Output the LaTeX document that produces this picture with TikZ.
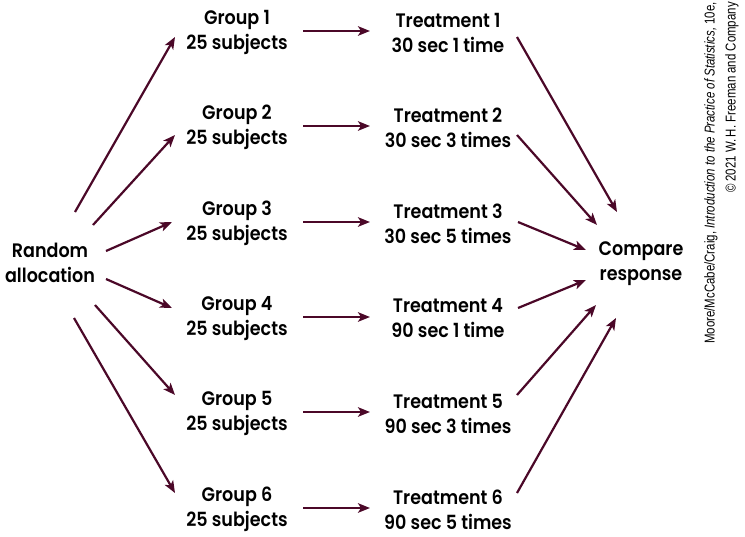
\documentclass[tikz,border=0pt]{standalone}
\usepackage{fontspec}
\setmainfont{Poppins}[FakeStretch=0.9, BoldFont={Poppins SemiBold}]
\newfontfamily\credfont{Liberation Sans}[FakeStretch=0.8]
\usetikzlibrary{arrows.meta}
\definecolor{arrcol}{RGB}{75,8,40}
\tikzset{
  lbl/.style={align=center, inner sep=0pt, font=\fontsize{19.5}{25}\selectfont\bfseries},
  arr/.style={draw=arrcol, line width=2.2pt, -{Stealth[length=12pt, width=9.5pt, inset=3pt]}},
  credit/.style={align=right, inner sep=0pt, font=\credfont\fontsize{14.3}{21}\selectfont}
}
\begin{document}
\begin{tikzpicture}[x=1pt, y=-1pt]
\useasboundingbox (0,0) rectangle (745,536);
\node[lbl] (ra) at (50,263) {Random\\allocation};
\node[lbl] (cr) at (641,264) {Compare\\response};
\node[lbl] (g1) at (237,32.5) {Group 1\\25 subjects};
\node[lbl] (g2) at (237,127.5) {Group 2\\25 subjects};
\node[lbl] (g3) at (237,223.5) {Group 3\\25 subjects};
\node[lbl] (g4) at (237,318.5) {Group 4\\25 subjects};
\node[lbl] (g5) at (237,413.5) {Group 5\\25 subjects};
\node[lbl] (g6) at (237,509.5) {Group 6\\25 subjects};
\node[lbl] (t1) at (448,32.5) {Treatment 1\\30 sec 1 time};
\node[lbl] (t2) at (448,127.5) {Treatment 2\\30 sec 3 times};
\node[lbl] (t3) at (448,223.5) {Treatment 3\\30 sec 5 times};
\node[lbl] (t4) at (448,318.5) {Treatment 4\\90 sec 1 time};
\node[lbl] (t5) at (448,413.5) {Treatment 5\\90 sec 3 times};
\node[lbl] (t6) at (448,509.5) {Treatment 6\\90 sec 5 times};
\node[credit, rotate=90, anchor=north east] (cred) at (704,2)
  {Moore/McCabe/Craig, \textit{Introduction to the Practice of Statistics,} 10e,\\
   \textcopyright\ 2021 W.\,H. Freeman and Company};
% random allocation -> groups
\draw[arr] ([shift={(25,-51)}]ra.center) -- ([shift={(-62,4.5)}]g1.center);
\draw[arr] ([shift={(43,-38)}]ra.center) -- ([shift={(-62,7.5)}]g2.center);
\draw[arr] ([shift={(56,-12)}]ra.center) -- ([shift={(-65,-1.5)}]g3.center);
\draw[arr] ([shift={(56,16)}]ra.center) -- ([shift={(-65,-10.5)}]g4.center);
\draw[arr] ([shift={(45,42)}]ra.center) -- ([shift={(-62,-18.5)}]g5.center);
\draw[arr] ([shift={(24,55)}]ra.center) -- ([shift={(-62,-16.5)}]g6.center);
% groups -> treatments
\foreach \i in {1,...,6}{
  \draw[arr] ([shift={(66,-1.5)}]g\i.center) -- ([shift={(-78,-1.5)}]t\i.center);
}
% treatments -> compare
\draw[arr] ([shift={(69,4.5)}]t1.center) -- ([shift={(-24,-52)}]cr.center);
\draw[arr] ([shift={(69,7.5)}]t2.center) -- ([shift={(-44,-39)}]cr.center);
\draw[arr] ([shift={(70,-1.5)}]t3.center) -- ([shift={(-55,-14)}]cr.center);
\draw[arr] ([shift={(70,-10.5)}]t4.center) -- ([shift={(-55,16)}]cr.center);
\draw[arr] ([shift={(69,-18.5)}]t5.center) -- ([shift={(-45,41)}]cr.center);
\draw[arr] ([shift={(69,-16.5)}]t6.center) -- ([shift={(-25,54)}]cr.center);
\end{tikzpicture}
\end{document}
